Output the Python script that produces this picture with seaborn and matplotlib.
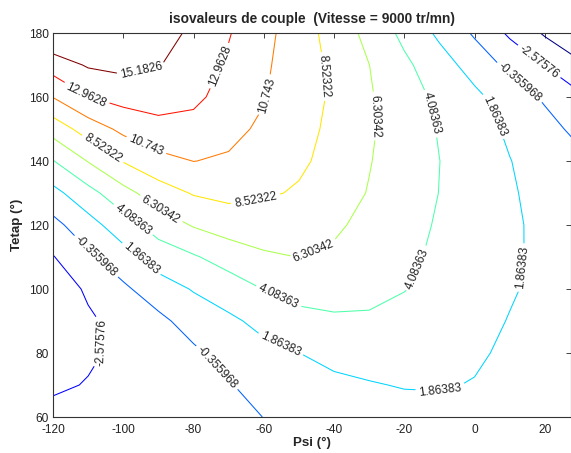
import numpy as np
import matplotlib
matplotlib.use("Agg")
import matplotlib.pyplot as plt
from matplotlib.colors import Normalize
import seaborn as sns

# ---- data ----
psi = [-120, -110, -100, -90, -80, -70, -60, -50, -40, -30, -20, -10, 0, 10, 20, 30]
tetap = [60, 70, 80, 90, 100, 110, 120, 130, 140, 150, 160, 170, 180]

couple_t60 = [-1.85, -1.75, -1.65, -1.65, -1.35, -0.95, -0.33, 0.35, 0.6, 0.82, 1.03, 1.0, 0.75, 0.7, 0.5, 0.3]
couple_t70 = [-2.95, -2.45, -1.95, -1.7, -1.1, -0.5, 0.48, 1.1, 1.42, 1.72, 1.99, 2.05, 1.75, 1.0, 0.75, 0.5]
couple_t80 = [-3.79, -2.9, -2.1, -1.45, -0.75, 0.497, 1.31, 1.85, 2.47, 2.78, 2.71, 2.68, 2.2, 1.45, 1.0, 0.7]
couple_t90 = [-4.03, -2.85, -1.95, -0.9, 0.595, 1.47, 2.44, 3.38, 3.78, 3.87, 3.44, 3.17, 2.48, 1.78, 1.2, 0.85]
couple_t100 = [-3.67, -2.3, -0.76, 0.87, 2.01, 2.95, 4.14, 4.88, 4.87, 4.5, 4.15, 3.47, 2.78, 2.05, 1.38, 0.95]
couple_t110 = [-2.68, -0.756, 1.0, 2.89, 3.86, 5.03, 5.99, 6.33, 6.0, 5.0, 4.41, 3.79, 2.97, 2.1, 1.52, 1.0]
couple_t120 = [-1.0, 1.01, 3.12, 5.05, 6.48, 7.32, 7.49, 7.3, 6.59, 5.8, 4.82, 3.87, 3.05, 2.13, 1.47, 0.95]
couple_t130 = [1.2, 3.35, 5.55, 7.49, 8.69, 9.11, 8.75, 8.35, 7.21, 6.2, 5.15, 4.05, 3.13, 2.07, 1.25, 0.68]
couple_t140 = [4.0, 6.41, 8.65, 10.07, 10.77, 10.51, 9.57, 8.8, 8.0, 6.4, 5.28, 4.1, 3.03, 1.92, 0.96, 0.15]
couple_t150 = [7.2, 9.55, 11.26, 12.27, 12.12, 11.29, 10.39, 9.0, 8.2, 6.55, 5.33, 3.93, 2.76, 1.53, 0.38, -0.96]
couple_t160 = [10.8, 12.92, 13.76, 13.9, 13.5, 12.0, 10.88, 9.2, 8.3, 6.5, 5.08, 3.58, 2.35, 0.75, -0.64, -2.21]
couple_t170 = [14.0, 15.41, 15.76, 15.3, 14.1, 12.65, 11.13, 9.4, 8.15, 6.32, 4.52, 2.8, 0.98, -0.91, -2.65, -4.39]
couple_t180 = [17.4, 17.1, 16.8, 16.3, 14.67, 13.1, 11.38, 9.57, 7.67, 5.66, 3.53, 1.44, -0.64, -2.94, -5.07, -7.0]

levels = [-4.79556, -2.57576, -0.355968, 1.86383, 4.08363, 6.30342,
          8.52322, 10.743, 12.9628, 15.1826]

xticks = [-120, -100, -80, -60, -40, -20, 0, 20]
yticks = [60, 80, 100, 120, 140, 160, 180]
title = "isovaleurs de couple  (Vitesse = 9000 tr/mn)"
xlabel = "Psi (°)"
ylabel = "Tetap (°)"

# label anchor points (where the inline labels sit)
label_pos = [
    (-94.7, 167.4),
    (-110.6, 160.6), (-71.0, 169.0),
    (-93.6, 144.5), (-57.7, 160.3),
    (-106.1, 143.4), (-62.0, 125.7), (-43.2, 166.4),
    (-89.3, 124.9), (-45.1, 110.4), (-27.6, 154.1),
    (-97.1, 121.8), (-56.0, 97.1), (-15.9, 106.2), (-12.1, 154.9),
    (-94.7, 109.6), (-55.3, 82.5), (-9.5, 67.4), (13.5, 106.7), (5.2, 153.8),
    (-107.8, 110.1), (-73.6, 75.2), (12.6, 164.3),
    (-107.1, 83.3), (18.3, 171.0),
]

# ---- style ----
sns.set_style("white")
plt.rcParams['font.family'] = ['Liberation Sans', 'DejaVu Sans']
plt.rcParams['axes.unicode_minus'] = False

Z = np.array([couple_t60, couple_t70, couple_t80, couple_t90, couple_t100,
              couple_t110, couple_t120, couple_t130, couple_t140, couple_t150,
              couple_t160, couple_t170, couple_t180])

fig = plt.figure(figsize=(5.71, 4.53), dpi=100)
fig.patch.set_facecolor("white")
ax = fig.add_axes([53 / 571, 36 / 453, 517.5 / 571, 384 / 453])
ax.set_facecolor("white")

norm = Normalize(vmin=levels[0], vmax=levels[-1])
cs = ax.contour(psi, tetap, Z, levels=levels, cmap="jet", norm=norm,
                linewidths=0.75)
ax.clabel(cs, fmt="%g", fontsize=8.6, colors="#222222", manual=label_pos,
          inline=True, inline_spacing=3)

ax.set_xlim(-120, 27.3)
ax.set_ylim(60, 180)
ax.set_xticks(xticks)
ax.set_yticks(yticks)
ax.tick_params(direction="in", top=True, right=True, length=3.5, width=0.6,
               labelsize=8.6, colors="#222222")
ax.tick_params(axis="x", pad=5)
ax.tick_params(axis="y", pad=3)
for s in ax.spines.values():
    s.set_color("#333333")
    s.set_linewidth(0.8)

ax.set_title(title, fontsize=9.9, fontweight="bold", pad=7)
ax.set_xlabel(xlabel, fontsize=9.6, fontweight="bold", labelpad=1)
ax.set_ylabel(ylabel, fontsize=9.6, fontweight="bold", labelpad=4)

fig.savefig("out.png", dpi=100)
